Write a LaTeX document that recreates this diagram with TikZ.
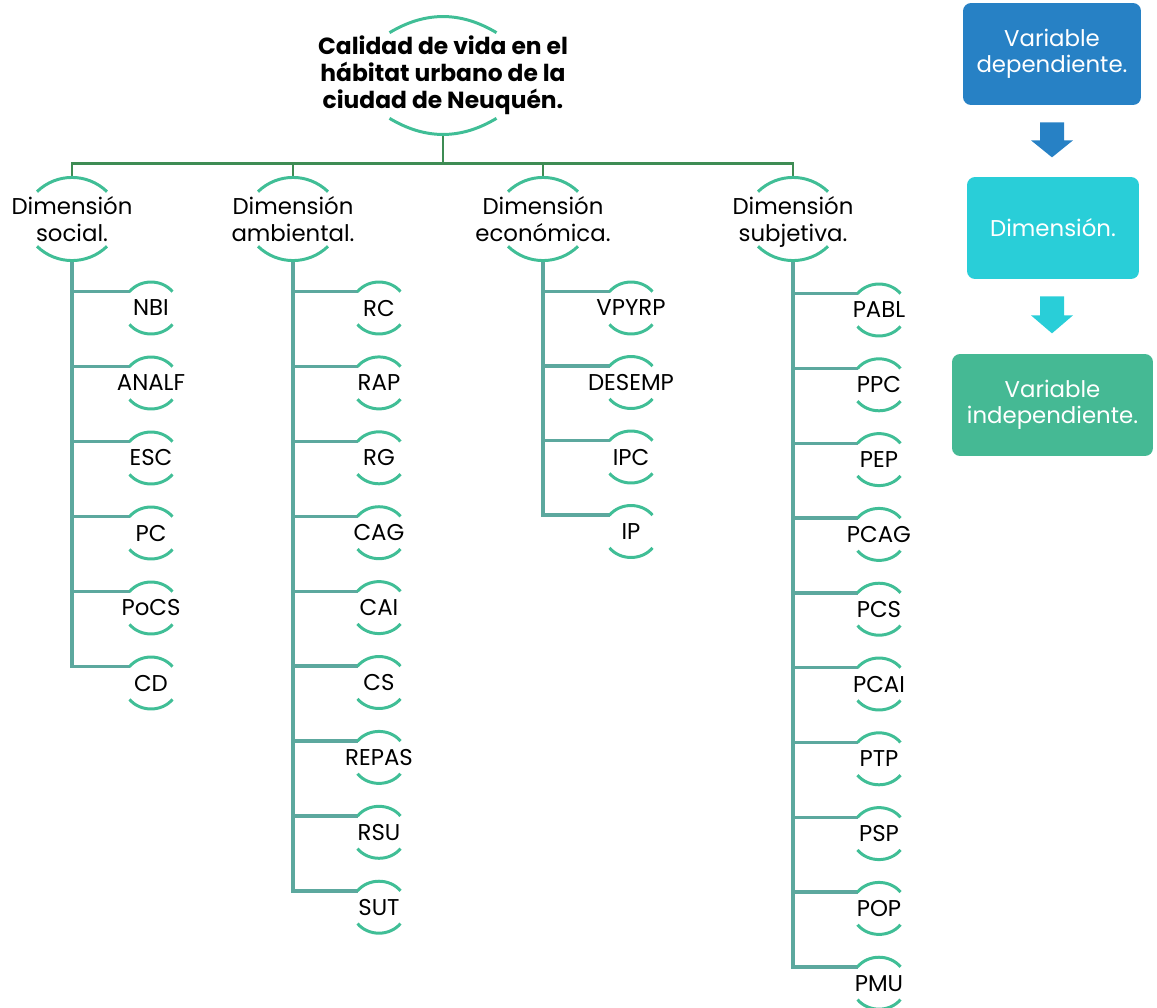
\documentclass[tikz,border=0pt]{standalone}
\usepackage{fontspec}
\setmainfont{Poppins}
\usepackage{tikz}
\usepackage{xcolor}
\definecolor{arcverde}{RGB}{64,190,150}
\definecolor{tronco}{RGB}{62,140,84}
\definecolor{ramal}{RGB}{92,168,158}
\definecolor{azul}{RGB}{39,129,197}
\definecolor{cian}{RGB}{41,206,216}
\definecolor{verde}{RGB}{69,185,148}

% arcs above and below a node: name, half chord, drop, bend
\newcommand{\arcos}[4]{%
  \draw[arco] ([shift={(-#2,-#3)}]#1.north) to[bend left=#4] ([shift={(#2,-#3)}]#1.north);
  \draw[arco] ([shift={(-#2,#3)}]#1.south) to[bend right=#4] ([shift={(#2,#3)}]#1.south);}

\begin{document}
\begin{tikzpicture}[x=0.02cm,y=0.02cm,
    every node/.style={inner sep=0pt, font=\fontsize{13}{15}\selectfont, align=center},
    titulo/.style={minimum height=2.3cm, font=\fontsize{13.3}{15.3}\selectfont\bfseries},
    dimen/.style={minimum height=1.64cm},
    hoja/.style={minimum height=1.04cm},
    caja/.style={rounded corners=0.16cm, minimum height=2.04cm, text=white},
    arco/.style={draw=arcverde, line width=1.7pt},
    lineatronco/.style={draw=tronco, line width=1.6pt},
    rama/.style={draw=ramal, line width=1.9pt}]
  \useasboundingbox (0,0) rectangle (1157,-1008);

  \node[titulo] (cal) at (443,-75.5) {Calidad de vida en el\\h\'abitat urbano de la\\ciudad de Neuqu\'en.};
  \node[dimen] (ds) at (72,-219) {Dimensi\'on\\social.};
  \node[dimen] (da) at (293,-219) {Dimensi\'on\\ambiental.};
  \node[dimen] (de) at (543,-219) {Dimensi\'on\\econ\'omica.};
  \node[dimen] (dj) at (793,-219) {Dimensi\'on\\\smash{subjetiva.}};

  \foreach \d in {ds,da,de,dj}
    \draw[lineatronco] (cal.south) -- ++(0,-30) -| (\d.north);

  \foreach \t [count=\i] in {NBI,ANALF,ESC,PC,PoCS,CD} {
    \node[hoja] (s\i) at (151,{-308-75*(\i-1)}) {\t};
    \draw[rama] (ds.south) |- ([shift={(-21.5,-10)}]s\i.north);
    \arcos{s\i}{21.5}{10}{50}
  }
  \foreach \t [count=\i] in {RC,RAP,RG,CAG,CAI,CS,REPAS,RSU,SUT} {
    \node[hoja] (a\i) at (379,{-308-74.9*(\i-1)}) {\t};
    \draw[rama] (da.south) |- ([shift={(-21.5,-10)}]a\i.north);
    \arcos{a\i}{21.5}{10}{50}
  }
  \foreach \t [count=\i] in {VPYRP,DESEMP,IPC,IP} {
    \node[hoja] (e\i) at (631,{-308-74.5*(\i-1)}) {\t};
    \draw[rama] (de.south) |- ([shift={(-21.5,-10)}]e\i.north);
    \arcos{e\i}{21.5}{10}{50}
  }
  \foreach \t [count=\i] in {PABL,PPC,PEP,PCAG,PCS,PCAI,PTP,PSP,POP,PMU} {
    \node[hoja] (j\i) at (879,{-310-74.8*(\i-1)}) {\t};
    \draw[rama] (dj.south) |- ([shift={(-21.5,-10)}]j\i.north);
    \arcos{j\i}{21.5}{10}{50}
  }

  \arcos{cal}{53.5}{15}{31}
  \foreach \d in {ds,da,de,dj} {
    \arcos{\d}{35}{14}{44}
  }

  % legend
  \node[caja, fill=azul, minimum width=3.56cm] (vd) at (1052,-54) {Variable\\dependiente.};
  \node[caja, fill=cian, minimum width=3.44cm] (dim) at (1053,-228) {Dimensi\'on.};
  \node[caja, fill=verde, minimum width=4.02cm] (vi) at (1052.5,-405) {Variable\\independiente.};
  \fill[azul, shift={(vd.south)}] (-12,-17) -- (12,-17) -- (12,-35) -- (21,-35) -- (0,-52) -- (-21,-35) -- (-12,-35) -- cycle;
  \fill[cian, shift={(dim.south)}] (-13,-17) -- (11,-17) -- (11,-36) -- (20,-36) -- (-1,-54) -- (-22,-36) -- (-13,-36) -- cycle;
\end{tikzpicture}
\end{document}
